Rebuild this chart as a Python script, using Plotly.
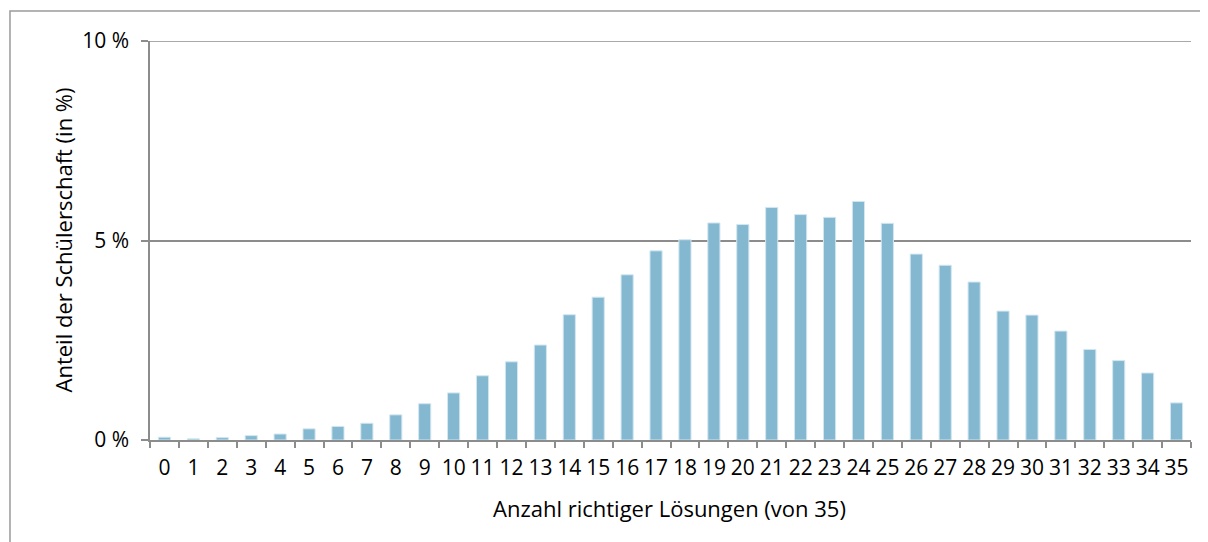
import plotly.graph_objects as go

categories = [str(i) for i in range(36)]
values = [0.07, 0.03, 0.06, 0.11, 0.15, 0.28, 0.34, 0.42, 0.63, 0.91,
          1.18, 1.61, 1.96, 2.38, 3.14, 3.58, 4.14, 4.74, 5.02, 5.44,
          5.40, 5.83, 5.65, 5.58, 5.98, 5.43, 4.66, 4.38, 3.96, 3.23,
          3.13, 2.73, 2.27, 1.99, 1.68, 0.93]
y_tickvals = [0, 5, 10]
y_ticktext = ["0 %", "5 %", "10 %"]
x_title = "Anzahl richtiger Lösungen (von 35)"
y_title = "Anteil der Schülerschaft (in %)"

font_family = "Open Sans, Noto Sans, sans-serif"
gray = "#8c8c8c"

fig = go.Figure(go.Bar(
    x=categories, y=values,
    marker=dict(color="#84b8d0", line=dict(color="#d3e7f0", width=1)),
))

fig.update_layout(
    width=1208, height=542,
    margin=dict(l=142, r=25, t=33, b=110),
    paper_bgcolor="white", plot_bgcolor="white",
    bargap=0.58, showlegend=False,
    font=dict(family=font_family, size=21, color="#000000"),
    shapes=[
        dict(type="rect", xref="paper", yref="paper",
             x0=-0.1345, x1=1.2, y0=-0.6, y1=1.0752,
             line=dict(color="#9a9a9a", width=1.5), fillcolor="rgba(0,0,0,0)",
             layer="below"),
        dict(type="line", xref="paper", yref="y", x0=-7/1041, x1=1, y0=10, y1=10,
             line=dict(color=gray, width=1.5)),
    ],
    annotations=[
        dict(text=y_title, xref="paper", yref="paper", x=0, y=0.5,
             xshift=-88, textangle=-90, showarrow=False,
             xanchor="center", yanchor="middle", font=dict(size=22)),
        dict(text=x_title, xref="paper", yref="paper", x=0.4995, y=0,
             yshift=-68, showarrow=False,
             xanchor="center", yanchor="middle", font=dict(size=22)),
    ],
)

fig.update_xaxes(
    type="category", range=[-0.5, 35.5], tickangle=0,
    tickson="boundaries", ticks="outside", ticklen=6, tickwidth=1.5, tickcolor=gray,
    showline=True, linecolor=gray, linewidth=1.5, showgrid=False,
    tickfont=dict(size=21), ticklabelstandoff=8,
)
fig.update_yaxes(
    range=[0, 10], tickvals=y_tickvals, ticktext=y_ticktext,
    ticks="outside", ticklen=7, tickwidth=1.5, tickcolor=gray,
    showline=True, linecolor=gray, linewidth=1.5,
    showgrid=True, gridcolor=gray, gridwidth=1.5, zeroline=False,
    tickfont=dict(size=21), ticklabelstandoff=8,
)

fig.write_html("out.html")
